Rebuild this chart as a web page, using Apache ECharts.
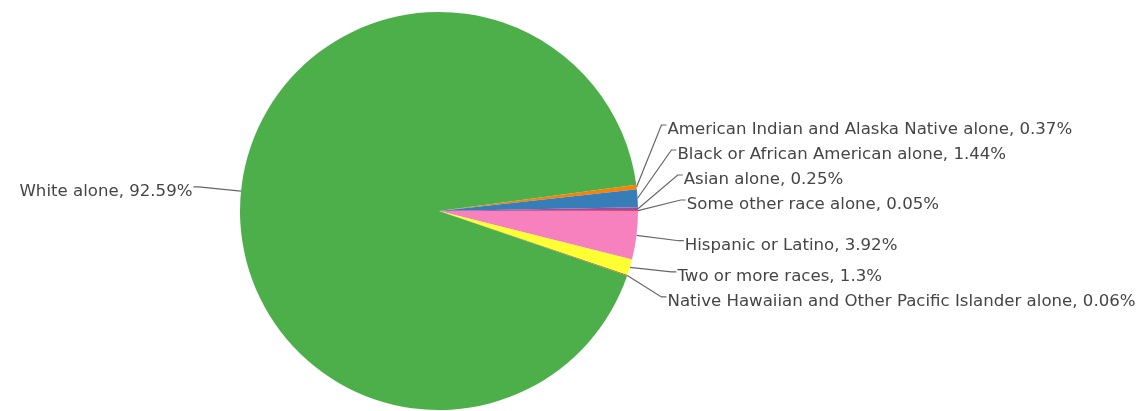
<!DOCTYPE html>
<html>
<head>
<meta charset="utf-8">
<script src="https://cdn.jsdelivr.net/npm/echarts@6/dist/echarts.min.js"></script>
<style>
html,body{margin:0;padding:0;background:#fff;}
#chart{width:1146px;height:411px;}
</style>
</head>
<body>
<div id="chart"></div>
<script>
const categories = [
  "American Indian and Alaska Native alone",
  "Black or African American alone",
  "Asian alone",
  "Some other race alone",
  "Hispanic or Latino",
  "Two or more races",
  "Native Hawaiian and Other Pacific Islander alone",
  "White alone"
];
const values = [0.37, 1.44, 0.25, 0.05, 3.92, 1.3, 0.06, 92.59];
const colors = ["#ff7f00", "#377eb8", "#984ea3", "#e41a1c", "#f781bf", "#ffff33", "#a65628", "#4daf4a"];

// geometry of the pie and label ring
const CX = 439, CY = 211, R = 199, START = 7.6;
const RE = 242;       // radius used for the natural label height
const GAP = 43;       // horizontal distance from pie outline to elbow
const SPACING = 25;   // min vertical distance between labels
const BOUND = 11;     // keep labels off the horizontal axis

// compute label layout from data
const total = values.reduce((a, b) => a + b, 0);
const info = [];
let cum = 0;
values.forEach((v, i) => {
  const mid = START - (cum + v / 2) / total * 360;
  cum += v;
  const rad = mid * Math.PI / 180;
  const cos = Math.cos(rad), sin = Math.sin(rad);
  info.push({
    i, mid, side: cos >= 0 ? 1 : -1, upper: sin >= 0,
    ex: CX + R * cos, ey: CY - R * sin,
    y: CY - RE * sin
  });
});
[1, -1].forEach(side => {
  [true, false].forEach(upper => {
    const arr = info.filter(d => d.side === side && d.upper === upper).sort((a, b) => a.y - b.y);
    for (let it = 0; it < 3000; it++) {
      for (let j = 0; j < arr.length - 1; j++) {
        const gap = arr[j + 1].y - arr[j].y;
        if (gap < SPACING) {
          const d = (SPACING - gap) / 2;
          arr[j].y -= d; arr[j + 1].y += d;
        }
      }
      arr.forEach(d => {
        if (upper) d.y = Math.min(d.y, CY - BOUND);
        else d.y = Math.max(d.y, CY + BOUND);
      });
    }
  });
});
info.forEach(d => {
  const dy = d.y - CY;
  const dx = Math.sqrt(Math.max(0, R * R - dy * dy));
  d.kx = CX + d.side * (dx + GAP);
});

const chart = echarts.init(document.getElementById('chart'), null, {renderer: 'canvas'});
chart.setOption({
  animation: false,
  backgroundColor: '#ffffff',
  series: [{
    type: 'pie',
    center: [CX, CY],
    radius: R,
    startAngle: START,
    clockwise: true,
    avoidLabelOverlap: false,
    data: categories.map((c, i) => ({name: c, value: values[i], itemStyle: {color: colors[i]}})),
    itemStyle: {borderWidth: 0},
    label: {
      show: true,
      position: 'outside',
      formatter: p => p.name + ', ' + p.value + '%',
      fontFamily: 'DejaVu Sans',
      fontSize: 16.6,
      color: '#454548',
      width: 700,
      overflow: 'none'
    },
    labelLine: {
      show: true,
      length: 30,
      length2: 5,
      lineStyle: {color: '#666666', width: 1.2}
    },
    labelLayout: function (params) {
      const d = info[params.dataIndex];
      return {
        x: d.kx + d.side * 6,
        y: d.y + 4.5,
        align: d.side > 0 ? 'left' : 'right',
        verticalAlign: 'middle',
        labelLinePoints: [[d.ex, d.ey], [d.kx, d.y], [d.kx + d.side * 5, d.y]]
      };
    },
    emphasis: {disabled: true}
  }]
});
</script>
</body>
</html>
